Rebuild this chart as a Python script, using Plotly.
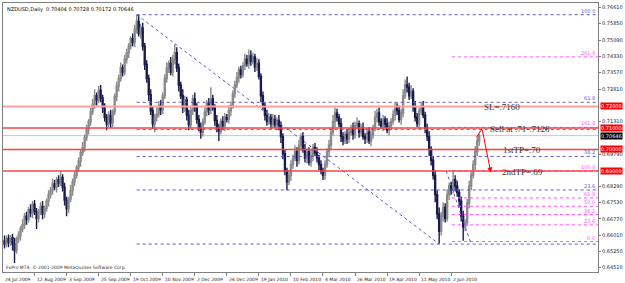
import plotly.graph_objects as go

# ---------------- data ----------------
symbol_header = "NZDUSD,Daily  0.70404 0.70728 0.70172 0.70646"
copyright_text = "FxPro MT4, \u00a9 2001-2009 MetaQuotes Software Corp."

first_open_pips = 6575
close_pips = [
    6560, 6585, 6570, 6590, 6560, 6530, 6585, 6600, 6630, 6650,
    6690, 6675, 6720, 6705, 6745, 6710, 6680, 6710, 6735, 6700,
    6725, 6760, 6790, 6810, 6840, 6825, 6860, 6845, 6870, 6825,
    6765, 6725, 6770, 6810, 6850, 6880, 6915, 6945, 6985, 7010,
    7055, 7095, 7130, 7175, 7210, 7250, 7230, 7275, 7240, 7195,
    7150, 7120, 7160, 7125, 7175, 7245, 7295, 7330, 7380, 7360,
    7420, 7450, 7480, 7515, 7500, 7560, 7595, 7540, 7565, 7480,
    7395, 7330, 7255, 7180, 7120, 7150, 7165, 7205, 7185, 7250,
    7330, 7380, 7400, 7360, 7420, 7450, 7380, 7300, 7250, 7195,
    7230, 7160, 7115, 7180, 7235, 7200, 7140, 7100, 7080, 7130,
    7175, 7215, 7185, 7235, 7195, 7135, 7100, 7085, 7130, 7110,
    7150, 7140, 7180, 7205, 7260, 7300, 7335, 7370, 7350, 7390,
    7420, 7400, 7435, 7410, 7430, 7385, 7400, 7340, 7250, 7205,
    7160, 7130, 7150, 7120, 7140, 7115, 7135, 7110, 7060, 6980,
    6900, 6850, 6880, 6930, 6960, 6990, 6950, 7020, 7060, 7000,
    6960, 6990, 6940, 6970, 7010, 6985, 6960, 6930, 6900, 6880,
    6930, 6990, 7020, 7080, 7130, 7170, 7150, 7120, 7060, 7040,
    7070, 7050, 7080, 7100, 7070, 7110, 7120, 7080, 7100, 7060,
    7050, 7080, 7040, 7070, 7100, 7150, 7170, 7130, 7110, 7140,
    7120, 7090, 7110, 7130, 7160, 7200, 7180, 7140, 7170, 7250,
    7300, 7290, 7250, 7270, 7200, 7150, 7120, 7180, 7200, 7160,
    7100, 7060, 7000, 6950, 6880, 6790, 6700, 6620, 6690, 6730,
    6680, 6790, 6830, 6810, 6860, 6830, 6800, 6760, 6690, 6640,
    6660, 6750, 6830, 6880, 6930, 6990, 7040, 7065,
]
up_wick_pips = [
    25, 15, 20, 12, 18, 30, 10, 20, 15, 25,
    15, 20, 12, 25, 15, 20, 18, 12, 20, 25,
    15, 12, 20, 15, 25, 18, 12, 20, 30, 15,
    20, 15, 10, 25, 15, 20, 12, 18, 15, 25,
    15, 20, 12, 18, 25, 30, 15, 20, 25, 15,
    20, 15, 18, 25, 12, 15, 20, 18, 25, 15,
    20, 18, 15, 12, 25, 20, 32, 30, 20, 25,
    15, 20, 18, 25, 20, 15, 30, 20, 25, 15,
    20, 25, 15, 30, 20, 40, 25, 20, 15, 30,
    20, 15, 25, 18, 20, 30, 15, 20, 25, 15,
    20, 15, 25, 55, 20, 15, 25, 20, 15, 25,
    20, 15, 25, 18, 15, 20, 25, 15, 20, 15,
    25, 20, 30, 25, 20, 15, 25, 20, 15, 20,
    15, 25, 20, 15, 25, 20, 15, 25, 20, 15,
    20, 15, 25, 20, 15, 30, 20, 25, 15, 20,
    25, 15, 20, 30, 15, 20, 25, 15, 20, 15,
    20, 15, 25, 20, 30, 25, 20, 15, 25, 20,
    15, 25, 20, 15, 25, 20, 30, 15, 20, 25,
    15, 20, 25, 20, 15, 30, 20, 25, 15, 20,
    15, 25, 20, 15, 25, 20, 15, 25, 20, 30,
    25, 40, 20, 30, 15, 25, 20, 15, 20, 25,
    15, 20, 25, 15, 20, 25, 20, 30, 20, 25,
    20, 25, 15, 20, 40, 20, 25, 15, 20, 25,
    15, 20, 25, 15, 20, 25, 20, 8,
]
down_wick_pips = [
    20, 15, 25, 18, 30, 58, 15, 20, 25, 15,
    20, 25, 15, 20, 25, 15, 50, 20, 15, 25,
    20, 15, 25, 18, 20, 15, 25, 20, 15, 20,
    25, 35, 20, 15, 25, 20, 15, 20, 25, 15,
    20, 15, 25, 20, 15, 20, 25, 15, 20, 25,
    20, 30, 15, 25, 20, 15, 20, 25, 15, 20,
    15, 20, 25, 15, 20, 25, 20, 15, 25, 20,
    25, 20, 30, 20, 25, 40, 20, 15, 25, 20,
    15, 20, 25, 15, 20, 25, 20, 30, 15, 25,
    20, 25, 25, 15, 20, 25, 20, 15, 30, 20,
    15, 20, 25, 20, 15, 25, 20, 45, 15, 20,
    25, 15, 20, 25, 15, 20, 15, 25, 20, 15,
    20, 15, 25, 20, 15, 25, 20, 15, 30, 20,
    25, 20, 15, 25, 20, 15, 25, 20, 30, 25,
    20, 40, 15, 25, 20, 15, 30, 20, 25, 15,
    20, 25, 15, 20, 25, 15, 20, 25, 15, 22,
    20, 15, 25, 20, 15, 25, 20, 15, 25, 20,
    15, 25, 20, 15, 25, 20, 15, 25, 20, 15,
    25, 20, 15, 25, 20, 15, 25, 20, 15, 25,
    20, 15, 25, 20, 15, 25, 20, 15, 25, 20,
    15, 25, 20, 15, 25, 20, 15, 25, 20, 15,
    25, 20, 30, 25, 20, 35, 25, 58, 20, 25,
    20, 15, 25, 20, 15, 25, 20, 30, 25, 65,
    20, 15, 25, 20, 15, 25, 20, 23,
]

date_tick_bars = [0, 16, 32, 48, 64, 80, 96, 112, 128, 144, 160, 176, 192, 208, 224]
date_tick_labels = ["24 Jul 2009", "12 Aug 2009", "3 Sep 2009", "25 Sep 2009", "19 Oct 2009",
                    "10 Nov 2009", "2 Dec 2009", "24 Dec 2009", "19 Jan 2010", "10 Feb 2010",
                    "4 Mar 2010", "26 Mar 2010", "19 Apr 2010", "11 May 2010", "2 Jun 2010"]

price_tick_values = [0.7661, 0.7585, 0.7509, 0.7433, 0.7357, 0.7281, 0.7131,
                     0.6979, 0.6829, 0.6753, 0.6677, 0.6601, 0.6525, 0.6451]
price_tick_labels = ["0.76610", "0.75850", "0.75090", "0.74330", "0.73570", "0.72810", "0.71310",
                     "0.69790", "0.68290", "0.67530", "0.66770", "0.66010", "0.65250", "0.64510"]

red_line_levels = [0.7200, 0.7100, 0.7000, 0.6900]
red_line_labels = ["0.72000", "0.71000", "0.70000", "0.69000"]
current_price = 0.70646
current_price_label = "0.70646"

trade_notes = ["SL=.7160", "Sell at .71-.7126", "1stTP=.70", "2ndTP=.69"]
trade_note_bars = [248.5, 257.5, 258.5, 258.8]
trade_note_levels = [0.7200, 0.7100, 0.7000, 0.6900]

# Fibonacci sets
blue_fib_low, blue_fib_high = 0.6560, 0.7627
blue_fib_levels = [0.0, 23.6, 38.2, 50.0, 61.8, 100.0]
blue_fib_labels = ["", "23.6", "38.2", "", "61.8", "100.0"]
blue_fib_start_bar = 66
blue_fib_anchor_bars = [66, 217]

mag_fib_zero, mag_fib_hundred = 0.6572, 0.6900
mag_fib_levels = [0.0, 23.6, 38.2, 50.0, 61.8, 100.0, 161.8, 261.8]
mag_fib_labels = ["0.0", "23.6", "38.2", "50.0", "61.8", "100.0", "161.8", "261.8"]
mag_fib_start_bar = 223.4
mag_fib_anchor_bars = [220.5, 232.8]

# trade arrow (bar, price)
arrow_leg_start = (235.7, 0.7058)
arrow_apex = (238.4, 0.7097)
arrow_tip = (242.8, 0.6893)

# ---------------- build ----------------
W, H = 625, 283
ML, MR, MT, MB = 2, 20, 3, 11
PX_PER_BAR = 2.03
x0r = -0.75
x1r = x0r + (W - ML - MR) / PX_PER_BAR
PX_PER_PRICE = 2150.0
ytop = 0.6979 + (154 - MT) / PX_PER_PRICE
ybot = ytop - (H - MT - MB) / PX_PER_PRICE

n = len(close_pips)
bars = list(range(n))
opens_p = [first_open_pips] + close_pips[:-1]
highs_p = [max(o, c) + u for o, c, u in zip(opens_p, close_pips, up_wick_pips)]
lows_p = [min(o, c) - d for o, c, d in zip(opens_p, close_pips, down_wick_pips)]
to_price = lambda lst: [v / 10000.0 for v in lst]

fig = go.Figure()
fig.add_trace(go.Candlestick(
    x=bars, open=to_price(opens_p), high=to_price(highs_p),
    low=to_price(lows_p), close=to_price(close_pips),
    increasing=dict(line=dict(color="#8a8a8a", width=1.4), fillcolor="#b8b8b8"),
    decreasing=dict(line=dict(color="#1a1a4c", width=1.4), fillcolor="#1a1a4c"),
    whiskerwidth=0, hoverinfo="skip", showlegend=False,
))

shapes = []
annotations = []
BLUE = "#5a5ad2"
MAG = "#ff55ff"

# current price line
shapes.append(dict(type="line", xref="x", yref="y", x0=x0r, x1=x1r, y0=current_price, y1=current_price,
                   line=dict(color="#c8c8c8", width=1), layer="below"))

# blue fib
for lv, lab in zip(blue_fib_levels, blue_fib_labels):
    v = blue_fib_low + (blue_fib_high - blue_fib_low) * lv / 100.0
    shapes.append(dict(type="line", xref="x", yref="y", x0=blue_fib_start_bar, x1=x1r, y0=v, y1=v,
                       line=dict(color=BLUE, width=1, dash="dot")))
    if lab:
        annotations.append(dict(xref="paper", yref="y", x=1, y=v, text=lab, showarrow=False,
                                xanchor="right", yanchor="bottom", xshift=-1, yshift=-1,
                                font=dict(family="DejaVu Sans", size=5, color=BLUE)))
shapes.append(dict(type="line", xref="x", yref="y", x0=blue_fib_anchor_bars[0], x1=blue_fib_anchor_bars[1],
                   y0=blue_fib_high, y1=blue_fib_low, line=dict(color=BLUE, width=1, dash="dot")))

# magenta fib
for lv, lab in zip(mag_fib_levels, mag_fib_labels):
    v = mag_fib_zero + (mag_fib_hundred - mag_fib_zero) * lv / 100.0
    shapes.append(dict(type="line", xref="x", yref="y", x0=mag_fib_start_bar, x1=x1r, y0=v, y1=v,
                       line=dict(color=MAG, width=1, dash="dot")))
    annotations.append(dict(xref="paper", yref="y", x=1, y=v, text=lab, showarrow=False,
                            xanchor="right", yanchor="bottom", xshift=-1, yshift=-1,
                            font=dict(family="DejaVu Sans", size=5, color=MAG)))
shapes.append(dict(type="line", xref="x", yref="y", x0=mag_fib_anchor_bars[0], x1=mag_fib_anchor_bars[1],
                   y0=mag_fib_hundred, y1=mag_fib_zero - 0.0008, line=dict(color=BLUE, width=1, dash="dot")))

# red horizontal lines
for i, lvl in enumerate(red_line_levels):
    if i == 0:
        ln = dict(color="#ffa0a0", width=2)
    else:
        ln = dict(color="#ff4040", width=1.5)
    shapes.append(dict(type="line", xref="x", yref="y", x0=x0r, x1=x1r, y0=lvl, y1=lvl, line=ln))
    annotations.append(dict(xref="paper", yref="y", x=1, y=lvl, text=red_line_labels[i], showarrow=False,
                            xanchor="left", yanchor="middle", xshift=2, bgcolor="#ff0000",
                            font=dict(family="DejaVu Sans", size=5, color="white"), borderpad=0))
annotations.append(dict(xref="paper", yref="y", x=1, y=current_price, text=current_price_label, showarrow=False,
                        xanchor="left", yanchor="middle", xshift=2, bgcolor="#000000",
                        font=dict(family="DejaVu Sans", size=5, color="white"), borderpad=0))

# trade notes
for t, b, lvl in zip(trade_notes, trade_note_bars, trade_note_levels):
    annotations.append(dict(xref="x", yref="y", x=b, y=lvl, text=t, showarrow=False,
                            xanchor="center", yanchor="middle", yshift=-1,
                            font=dict(family="Liberation Serif", size=9, color="#333333")))

# arrow
shapes.append(dict(type="line", xref="x", yref="y", x0=arrow_leg_start[0], y0=arrow_leg_start[1],
                   x1=arrow_apex[0], y1=arrow_apex[1], line=dict(color="#ff0000", width=1)))
annotations.append(dict(xref="x", yref="y", axref="x", ayref="y", x=arrow_tip[0], y=arrow_tip[1],
                        ax=arrow_apex[0], ay=arrow_apex[1], showarrow=True, arrowhead=2,
                        arrowsize=1, arrowwidth=1, arrowcolor="#ff0000", text=""))

# header and copyright
annotations.append(dict(xref="paper", yref="paper", x=0, y=1, text=symbol_header, showarrow=False,
                        xanchor="left", yanchor="top", xshift=2, yshift=-1,
                        font=dict(family="DejaVu Sans", size=5, color="#000000")))
annotations.append(dict(xref="paper", yref="paper", x=0, y=0, text=copyright_text, showarrow=False,
                        xanchor="left", yanchor="bottom", xshift=1, yshift=0,
                        font=dict(family="DejaVu Sans", size=4.5, color="#303030")))

# date labels
for b, lab in zip(date_tick_bars, date_tick_labels):
    annotations.append(dict(xref="x", yref="paper", x=b, y=0, text=lab, showarrow=False,
                            xanchor="left", yanchor="top", xshift=-2, yshift=-3,
                            font=dict(family="DejaVu Sans", size=4.5, color="#202020")))

fig.update_layout(
    width=W, height=H, margin=dict(l=ML, r=MR, t=MT, b=MB),
    paper_bgcolor="white", plot_bgcolor="white",
    shapes=shapes, annotations=annotations, showlegend=False,
    xaxis=dict(range=[x0r, x1r], showgrid=False, zeroline=False, rangeslider=dict(visible=False),
               tickvals=[b - 1 for b in date_tick_bars], ticktext=["" for _ in date_tick_bars],
               ticks="outside", ticklen=3, tickcolor="#808080",
               showline=True, mirror=True, linecolor="#808080", linewidth=1, fixedrange=True),
    yaxis=dict(range=[ybot, ytop], side="right", showgrid=False, zeroline=False,
               tickvals=price_tick_values, ticktext=price_tick_labels, ticks="outside", ticklen=2,
               tickcolor="#808080", tickfont=dict(family="DejaVu Sans", size=5, color="#202020"),
               showline=True, mirror=True, linecolor="#808080", linewidth=1, fixedrange=True),
)

fig.write_html("out.html")
